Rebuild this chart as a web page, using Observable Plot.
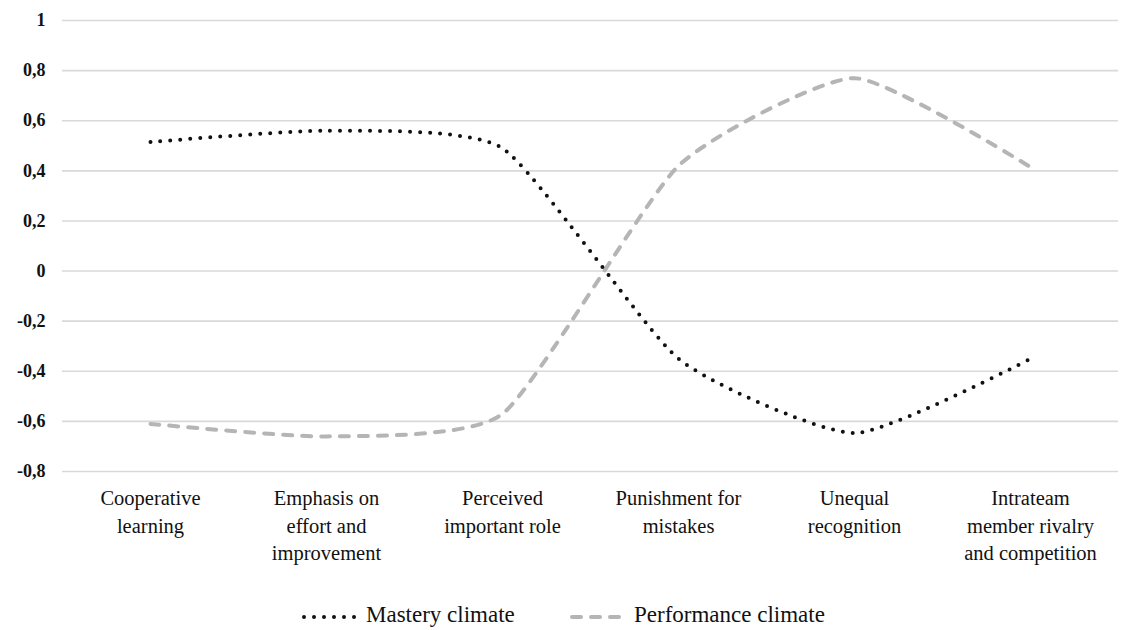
<!DOCTYPE html>
<html>
<head>
<meta charset="utf-8">
<script src="https://cdn.jsdelivr.net/npm/d3@7"></script>
<script src="https://cdn.jsdelivr.net/npm/@observablehq/plot@0.6"></script>
<style>
  html, body { margin: 0; padding: 0; background: #fff; }
  body { width: 1125px; height: 630px; overflow: hidden; position: relative;
         font-family: "Liberation Serif", "Times New Roman", Tinos, "DejaVu Serif", serif; }
  svg, svg text { font-family: "Liberation Serif", "Times New Roman", Tinos, "DejaVu Serif", serif !important; }
  #legend { position: absolute; left: 0; top: 600px; width: 1125px; height: 36px; }
  .item { position: absolute; top: 0; display: flex; align-items: center; font-size: 23px; color: #111; }
</style>
</head>
<body>
<div id="chart"></div>
<div id="legend"></div>
<script>
const categories = [
  "Cooperative\nlearning",
  "Emphasis on\neffort and\nimprovement",
  "Perceived\nimportant role",
  "Punishment for\nmistakes",
  "Unequal\nrecognition",
  "Intrateam\nmember rivalry\nand competition"
];
const mastery = [0.515, 0.56, 0.49, -0.35, -0.647, -0.35];
const performance = [-0.61, -0.66, -0.57, 0.42, 0.77, 0.415];
const yTicks = [-0.8, -0.6, -0.4, -0.2, 0, 0.2, 0.4, 0.6, 0.8, 1];
const seriesNames = ["Mastery climate", "Performance climate"];

const masteryData = categories.map((c, i) => ({cat: c, value: mastery[i]}));
const performanceData = categories.map((c, i) => ({cat: c, value: performance[i]}));

const fmt = d => String(+d.toFixed(1)).replace(".", ",");
const serif = "'Liberation Serif', 'Times New Roman', Tinos, 'DejaVu Serif', serif";

const chart = Plot.plot({
  width: 1125,
  height: 600,
  marginLeft: 62,
  marginRight: 7,
  marginTop: 20,
  marginBottom: 129,
  style: `font-family: ${serif}; color: #111; background: #fff;`,
  x: {type: "point", domain: categories, padding: 0.5, label: null},
  y: {domain: [-0.8, 1], label: null},
  marks: [
    Plot.gridY(yTicks, {stroke: "#d9d9d9", strokeOpacity: 1, strokeWidth: 1.6}),
    Plot.axisY(yTicks, {tickSize: 0, tickPadding: 17, tickFormat: fmt, fontSize: 18, fontWeight: "bold", fontFamily: serif, label: null}),
    Plot.axisX({tickSize: 0, tickPadding: 14, fontSize: 20.5, lineHeight: 1.35, fontFamily: serif, label: null}),
    Plot.line(performanceData, {x: "cat", y: "value", curve: "cardinal", tension: 0.45, stroke: "#b5b5b5", strokeWidth: 4, strokeDasharray: "9,10", strokeLinecap: "round"}),
    Plot.line(masteryData, {x: "cat", y: "value", curve: "cardinal", tension: 0.45, stroke: "#111", strokeWidth: 4, strokeDasharray: "0,10", strokeLinecap: "round"})
  ]
});
document.getElementById("chart").appendChild(chart);

// Legend
const legend = document.getElementById("legend");
const specs = [
  {name: seriesNames[0], left: 300, stroke: "#111", dash: "0,10", width: 56},
  {name: seriesNames[1], left: 568, stroke: "#b5b5b5", dash: "9,10", width: 56}
];
for (const s of specs) {
  const div = document.createElement("div");
  div.className = "item";
  div.style.left = s.left + "px";
  div.innerHTML = `<svg width="${s.width + 6}" height="30"><line x1="4" x2="${s.width}" y1="17" y2="17" stroke="${s.stroke}" stroke-width="4" stroke-dasharray="${s.dash}" stroke-linecap="round"/></svg><span style="margin-left:4px">${s.name}</span>`;
  legend.appendChild(div);
}
</script>
</body>
</html>
